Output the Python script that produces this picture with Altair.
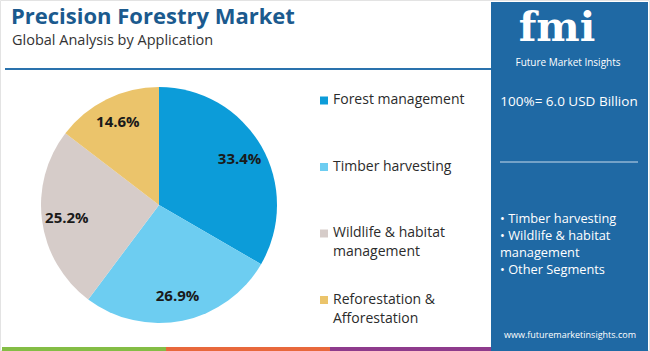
import altair as alt
import pandas as pd

# ---- data ----
categories = ["Forest management", "Timber harvesting",
              "Wildlife & habitat management", "Reforestation & Afforestation"]
shares = [33.4, 26.9, 25.2, 14.6]
share_labels = ["33.4%", "26.9%", "25.2%", "14.6%"]
legend_labels = ["Forest management", "Timber harvesting",
                 "Wildlife & habitat\nmanagement", "Reforestation &\nAfforestation"]
colors = ["#0c9cd9", "#6dcdf1", "#d6ccc9", "#ebc46b"]

title_text = "Precision Forestry Market"
subtitle_text = "Global Analysis by Application"
total_text = "100%= 6.0 USD Billion"
bullet_lines = ["• Timber harvesting", "• Wildlife & habitat", "management", "• Other Segments"]
url_text = "www.futuremarketinsights.com"
logo_text = "fmi"
logo_sub = "Future Market Insights"
stripe_colors = ["#84bd45", "#e8683c", "#8e3b8c"]

FONT = "Open Sans"
PANEL = "#1f69a4"

pie_df = pd.DataFrame({"category": categories, "share": shares,
                       "label": share_labels, "order": list(range(len(categories)))})
legend_df = pd.DataFrame({"category": categories, "label": legend_labels,
                          "idx": list(range(len(categories)))})
stripe_df = pd.DataFrame({"i": list(range(len(stripe_colors))), "c": stripe_colors})
bullets_df = pd.DataFrame({"t": bullet_lines, "i": list(range(len(bullet_lines)))})

color_scale = alt.Scale(domain=categories, range=colors)

blank = alt.Chart(pd.DataFrame({"a": [0]}))

# frame
frame = blank.mark_rect(fill="white", stroke="#e3e3e3", strokeWidth=1).encode(
    x=alt.value(0.5), x2=alt.value(649.5), y=alt.value(0.5), y2=alt.value(350.5))

# bottom stripes
stripes = alt.Chart(stripe_df).mark_rect().encode(
    x=alt.X("i:Q", scale=alt.Scale(domain=[0, 3], range=[2, 494]), axis=None),
    x2="i2:Q",
    y=alt.value(347), y2=alt.value(351),
    color=alt.Color("c:N", scale=None),
).transform_calculate(i2="datum.i + 1")

# header
title = blank.mark_text(text=title_text, font=FONT, fontSize=22, fontWeight="bold",
                        color="#1b5a8e", align="left", baseline="alphabetic").encode(
    x=alt.value(11), y=alt.value(24))
subtitle = blank.mark_text(text=subtitle_text, font=FONT, fontSize=14.5, color="#333333",
                           align="left", baseline="alphabetic").encode(
    x=alt.value(12), y=alt.value(45))
header_line = blank.mark_rule(color="#2a72ad", strokeWidth=2).encode(
    x=alt.value(5), x2=alt.value(491), y=alt.value(69))

# pie
base = alt.Chart(pie_df).encode(
    theta=alt.Theta("share:Q", stack=True),
    order=alt.Order("order:Q"),
)
pie = base.mark_arc(outerRadius=118).encode(
    color=alt.Color("category:N", scale=color_scale, legend=None),
    x=alt.value(159), y=alt.value(205),
)
pie_text = base.mark_text(radius=93, font=FONT, fontSize=15, fontWeight="bold",
                          color="#1a1a1a").encode(
    text="label:N", x=alt.value(159), y=alt.value(205))

# legend
leg_y = alt.Y("idx:Q", scale=alt.Scale(domain=[0, 3], range=[100.5, 300]), axis=None)
leg_sq = alt.Chart(legend_df).mark_square(size=64, opacity=1).encode(
    x=alt.value(324), y=leg_y,
    color=alt.Color("category:N", scale=color_scale, legend=None))
leg_txt = alt.Chart(legend_df).mark_text(align="left", baseline="middle", font=FONT,
                                         fontSize=14, color="#2b2b2b", lineBreak="\n",
                                         lineHeight=19, dy=-0.5).encode(
    x=alt.value(333), y=leg_y, text="label:N")

# right panel
panel = blank.mark_rect(fill=PANEL).encode(
    x=alt.value(491), x2=alt.value(648), y=alt.value(2), y2=alt.value(351))
logo = blank.mark_text(text=logo_text, font="DejaVu Serif", fontSize=41, fontWeight="bold",
                       color="white", align="center", baseline="top").encode(
    x=alt.value(557), y=alt.value(9))
logo2 = blank.mark_text(text=logo_sub, font=FONT, fontSize=10, color="white",
                        align="center", baseline="middle").encode(
    x=alt.value(568), y=alt.value(62.5))
total = blank.mark_text(text=total_text, font=FONT, fontSize=13.5, color="white",
                        align="center", baseline="middle").encode(
    x=alt.value(569), y=alt.value(102))
panel_line = blank.mark_rule(color="#c9dcec", strokeWidth=1).encode(
    x=alt.value(500), x2=alt.value(638), y=alt.value(162))
bullets = alt.Chart(bullets_df).mark_text(font=FONT, fontSize=12.8, color="white",
                                          align="left", baseline="middle").encode(
    x=alt.value(500),
    y=alt.Y("i:Q", scale=alt.Scale(domain=[0, 3], range=[218.5, 270]), axis=None),
    text="t:N")
url = blank.mark_text(text=url_text, font=FONT, fontSize=9, color="white",
                      align="center", baseline="middle").encode(
    x=alt.value(570), y=alt.value(335))

chart = alt.layer(
    frame, stripes, title, subtitle, header_line, pie, pie_text, leg_sq, leg_txt,
    panel, logo, logo2, total, panel_line, bullets, url
).resolve_scale(x="independent", y="independent", color="independent").properties(
    width=650, height=351, padding=0, autosize="none", background="white"
).configure_view(stroke=None)

chart.save("out.html", embed_options={"renderer": "svg", "actions": False})
